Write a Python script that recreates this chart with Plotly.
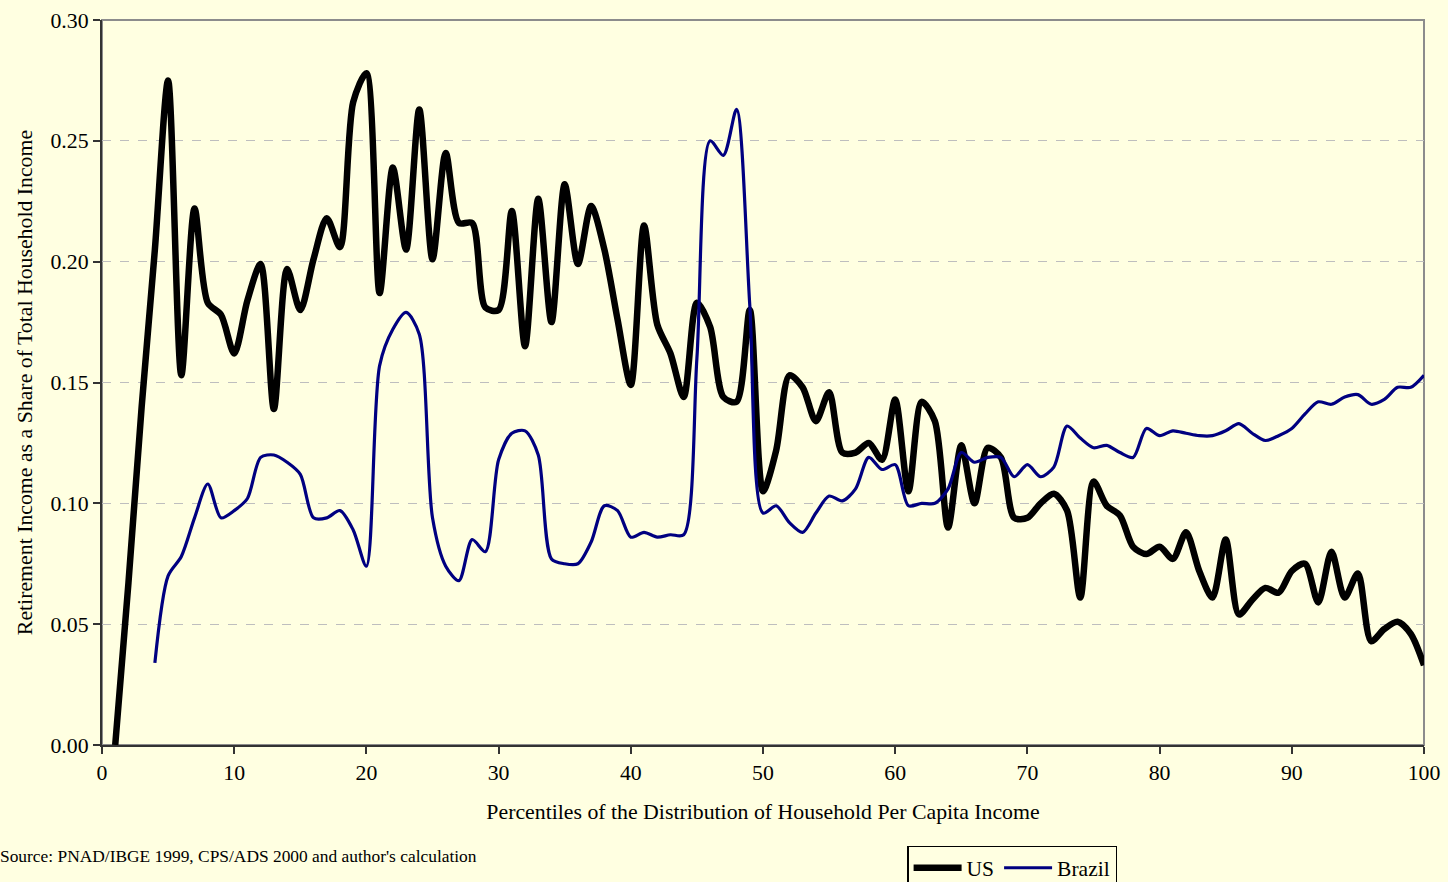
import plotly.graph_objects as go

# percentiles of household per capita income
us_pct = list(range(1, 101))
us_share = [
    0.000, 0.067, 0.140, 0.205, 0.275, 0.153, 0.222, 0.183, 0.178, 0.162,
    0.184, 0.199, 0.139, 0.197, 0.180, 0.201, 0.218, 0.206, 0.266, 0.278,
    0.187, 0.239, 0.205, 0.263, 0.201, 0.245, 0.216, 0.216, 0.181, 0.180,
    0.221, 0.165, 0.226, 0.175, 0.232, 0.199, 0.223, 0.205, 0.176, 0.149,
    0.215, 0.174, 0.162, 0.144, 0.183, 0.173, 0.144, 0.142, 0.180, 0.105,
    0.122, 0.153, 0.148, 0.134, 0.146, 0.121, 0.121, 0.125, 0.118, 0.143,
    0.105, 0.142, 0.134, 0.090, 0.124, 0.100, 0.123, 0.119, 0.094, 0.094,
    0.100, 0.104, 0.097, 0.061, 0.109, 0.099, 0.095, 0.082, 0.079, 0.082,
    0.077, 0.088, 0.072, 0.061, 0.085, 0.054, 0.060, 0.065, 0.063, 0.072,
    0.075, 0.059, 0.080, 0.061, 0.071, 0.043, 0.048, 0.051, 0.046, 0.033,
]

brazil_pct = list(range(4, 101))
brazil_share = [
    0.034, 0.070, 0.078, 0.094, 0.108, 0.094, 0.097, 0.102, 0.119, 0.120,
    0.117, 0.112, 0.094, 0.094, 0.097, 0.089, 0.074, 0.157, 0.172, 0.179,
    0.170, 0.094, 0.074, 0.068, 0.085, 0.080, 0.118, 0.129, 0.130, 0.120,
    0.077, 0.075, 0.075, 0.084, 0.099, 0.097, 0.086, 0.088, 0.086, 0.087,
    0.087, 0.160, 0.250, 0.244, 0.263, 0.182, 0.096, 0.099, 0.092, 0.088,
    0.096, 0.103, 0.101, 0.106, 0.119, 0.114, 0.116, 0.099, 0.100, 0.100,
    0.106, 0.121, 0.117, 0.119, 0.119, 0.111, 0.116, 0.111, 0.115, 0.132,
    0.127, 0.123, 0.124, 0.121, 0.119, 0.131, 0.128, 0.130, 0.129, 0.128,
    0.128, 0.130, 0.133, 0.129, 0.126, 0.128, 0.131, 0.137, 0.142, 0.141,
    0.144, 0.145, 0.141, 0.143, 0.148, 0.148, 0.153,
]

BG = '#FFFFE1'
FONT = 'Liberation Serif, Times New Roman, serif'

fig = go.Figure()
fig.add_trace(go.Scatter(x=us_pct, y=us_share, name='US', mode='lines',
                         line=dict(color='black', width=6.5, shape='spline',
                                   smoothing=0.8)))
fig.add_trace(go.Scatter(x=brazil_pct, y=brazil_share, name='Brazil',
                         mode='lines',
                         line=dict(color='#000080', width=3.2, shape='spline',
                                   smoothing=0.8)))

# gray frame on top/right, dark axes on left/bottom
fig.add_shape(type='rect', xref='paper', yref='paper', x0=0, x1=1, y0=0, y1=1,
              line=dict(color='#8C8C8C', width=2), layer='below')

fig.add_annotation(text="Source: PNAD/IBGE 1999, CPS/ADS 2000 and author's calculation",
                   xref='paper', yref='paper', x=-0.0785, y=-0.153,
                   xanchor='left', yanchor='middle', showarrow=False,
                   font=dict(family=FONT, size=17.4, color='black'))

fig.update_layout(
    width=1448, height=882,
    paper_bgcolor=BG, plot_bgcolor=BG,
    margin=dict(l=102, r=24, t=20, b=137, autoexpand=False),
    font=dict(family=FONT, size=21.8, color='black'),
    showlegend=True,
    legend=dict(orientation='h', x=0.609, y=-0.139, xanchor='left',
                yanchor='top', bgcolor=BG, bordercolor='black', borderwidth=1.5,
                font=dict(family=FONT, size=21.5), itemwidth=48,
                tracegroupgap=0),
)
fig.update_xaxes(range=[0, 100], tick0=0, dtick=10, showgrid=False,
                 zeroline=False, showline=True, linecolor='#333333',
                 linewidth=2, ticks='outside', ticklen=7, tickcolor='#333333',
                 tickwidth=1.5,
                 title=dict(text='Percentiles of the Distribution of Household Per Capita Income',
                            font=dict(family=FONT, size=21.8), standoff=20))
fig.update_yaxes(range=[0, 0.30], tick0=0, dtick=0.05, tickformat='.2f',
                 showgrid=True, gridcolor='#BEBEBE', griddash='dash',
                 gridwidth=1, zeroline=False, showline=True,
                 linecolor='#333333', linewidth=2, ticks='outside', ticklen=7,
                 tickcolor='#333333', tickwidth=1.5,
                 title=dict(text='Retirement Income as a Share of Total Household Income',
                            font=dict(family=FONT, size=21.8), standoff=12))

fig.write_html("out.html", config={'displayModeBar': False},
               post_script="document.body.style.margin='0px';"
                           "document.body.style.overflow='hidden';")
